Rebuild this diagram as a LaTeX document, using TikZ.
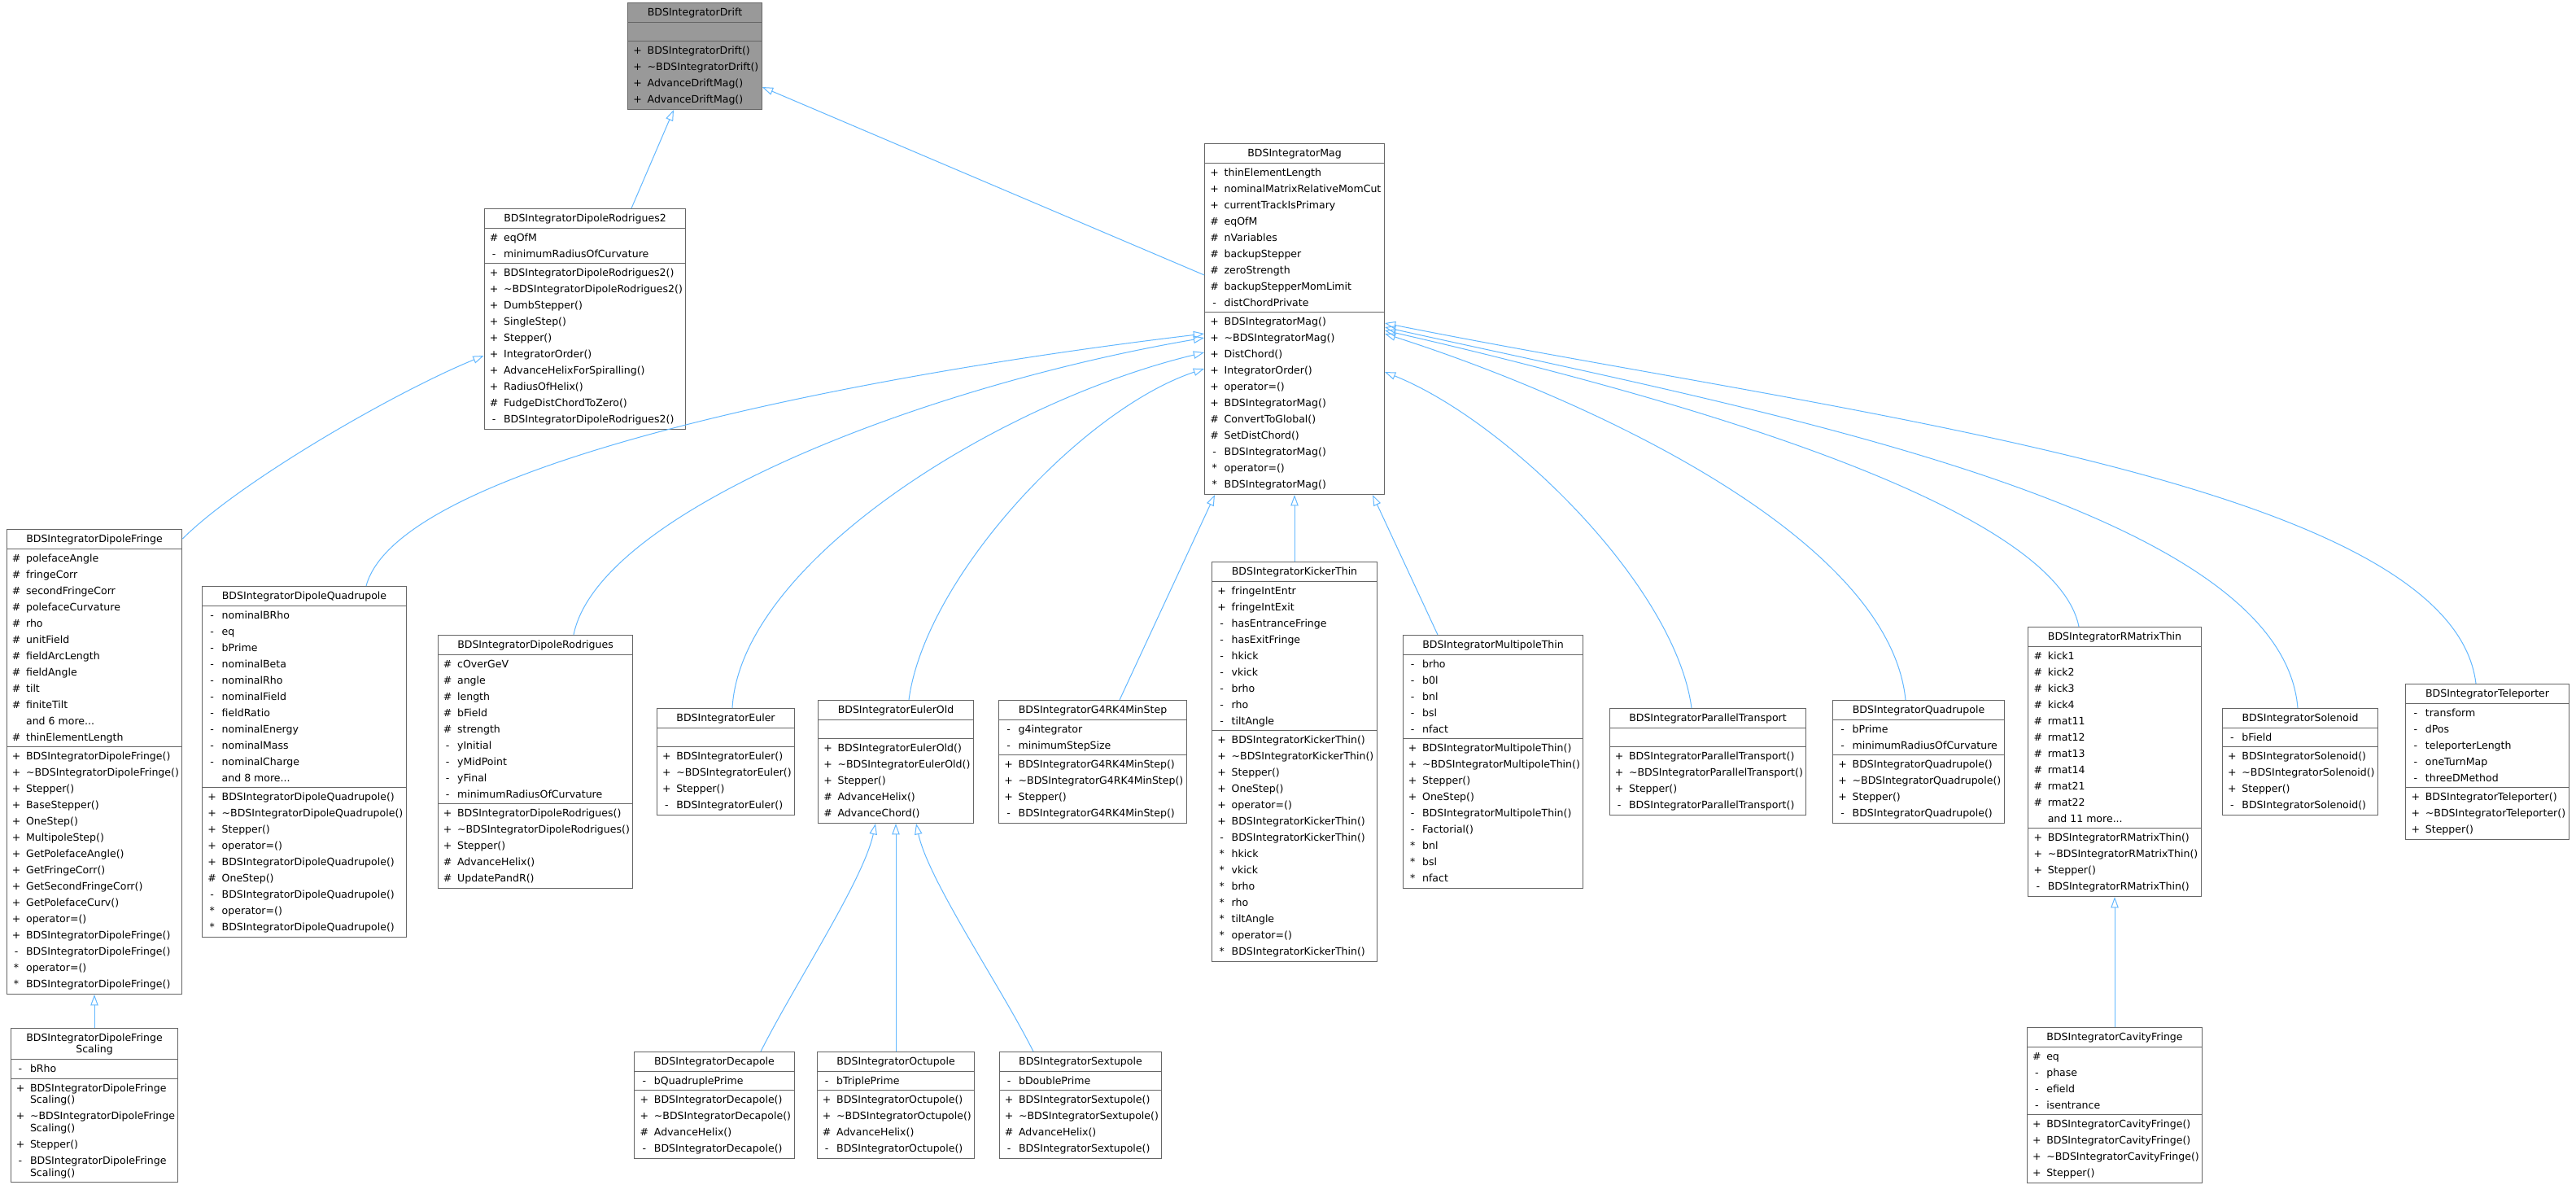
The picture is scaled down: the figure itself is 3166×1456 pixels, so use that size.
\documentclass[tikz,border=0pt]{standalone}
\usepackage{fontspec}
\setmainfont{DejaVu Sans}
\usepackage{tikz}
\usetikzlibrary{shapes.multipart,arrows.meta,calc}
\definecolor{edgeblue}{HTML}{63B8FF}
\definecolor{boxgray}{HTML}{666666}
\definecolor{curgray}{HTML}{999999}

% one member line: visibility symbol, then the name
\newcommand{\ent}[2]{\strut\makebox[12pt][c]{#1}\hspace{3pt}#2}
\newcommand{\tildech}{\textasciitilde}

\begin{document}
\fontsize{9.4pt}{15pt}\selectfont
\begin{tikzpicture}[x=0.75pt, y=-0.75pt,
    classbox/.style={rectangle split, rectangle split parts=3, draw=boxgray, line width=0.75pt, fill=white,
        align=left, rectangle split part align={center,left,left}, inner xsep=3pt, inner ysep=1pt},
    inh/.style={draw=edgeblue, line width=0.75pt, -{Triangle[open, length=10pt, width=7pt]}}]

    \path[use as bounding box, fill=white] (0,0) rectangle (3166,1456);

    % BDSIntegratorDrift (the class itself)
    \node[classbox, fill=curgray] (drift) at (854,69) {\strut BDSIntegratorDrift
        \nodepart{two}\strut
        \nodepart{three}\ent{+}{BDSIntegratorDrift()}\\\ent{+}{\tildech BDSIntegratorDrift()}\\\ent{+}{AdvanceDriftMag()}\\\ent{+}{AdvanceDriftMag()}};

    % BDSIntegratorDipoleRodrigues2
    \node[classbox] (rod2) at (719,392) {\strut BDSIntegratorDipoleRodrigues2
        \nodepart{two}\ent{\#}{eqOfM}\\\ent{-}{minimumRadiusOfCurvature}
        \nodepart{three}\ent{+}{BDSIntegratorDipoleRodrigues2()}\\\ent{+}{\tildech BDSIntegratorDipoleRodrigues2()}\\\ent{+}{DumbStepper()}\\\ent{+}{SingleStep()}\\\ent{+}{Stepper()}\\\ent{+}{IntegratorOrder()}\\\ent{+}{AdvanceHelixForSpiralling()}\\\ent{+}{RadiusOfHelix()}\\\ent{\#}{FudgeDistChordToZero()}\\\ent{-}{BDSIntegratorDipoleRodrigues2()}};

    % BDSIntegratorMag
    \node[classbox] (mag) at (1591,392) {\strut BDSIntegratorMag
        \nodepart{two}\ent{+}{thinElementLength}\\\ent{+}{nominalMatrixRelativeMomCut}\\\ent{+}{currentTrackIsPrimary}\\\ent{\#}{eqOfM}\\\ent{\#}{nVariables}\\\ent{\#}{backupStepper}\\\ent{\#}{zeroStrength}\\\ent{\#}{backupStepperMomLimit}\\\ent{-}{distChordPrivate}
        \nodepart{three}\ent{+}{BDSIntegratorMag()}\\\ent{+}{\tildech BDSIntegratorMag()}\\\ent{+}{DistChord()}\\\ent{+}{IntegratorOrder()}\\\ent{+}{operator=()}\\\ent{+}{BDSIntegratorMag()}\\\ent{\#}{ConvertToGlobal()}\\\ent{\#}{SetDistChord()}\\\ent{-}{BDSIntegratorMag()}\\\ent{*}{operator=()}\\\ent{*}{BDSIntegratorMag()}};

    % BDSIntegratorDipoleFringe
    \node[classbox] (dfringe) at (116,936) {\strut BDSIntegratorDipoleFringe
        \nodepart{two}\ent{\#}{polefaceAngle}\\\ent{\#}{fringeCorr}\\\ent{\#}{secondFringeCorr}\\\ent{\#}{polefaceCurvature}\\\ent{\#}{rho}\\\ent{\#}{unitField}\\\ent{\#}{fieldArcLength}\\\ent{\#}{fieldAngle}\\\ent{\#}{tilt}\\\ent{\#}{finiteTilt}\\\ent{}{and 6 more...}\\\ent{\#}{thinElementLength}
        \nodepart{three}\ent{+}{BDSIntegratorDipoleFringe()}\\\ent{+}{\tildech BDSIntegratorDipoleFringe()}\\\ent{+}{Stepper()}\\\ent{+}{BaseStepper()}\\\ent{+}{OneStep()}\\\ent{+}{MultipoleStep()}\\\ent{+}{GetPolefaceAngle()}\\\ent{+}{GetFringeCorr()}\\\ent{+}{GetSecondFringeCorr()}\\\ent{+}{GetPolefaceCurv()}\\\ent{+}{operator=()}\\\ent{+}{BDSIntegratorDipoleFringe()}\\\ent{-}{BDSIntegratorDipoleFringe()}\\\ent{*}{operator=()}\\\ent{*}{BDSIntegratorDipoleFringe()}};

    % BDSIntegratorDipoleQuadrupole
    \node[classbox] (dquad) at (374,936) {\strut BDSIntegratorDipoleQuadrupole
        \nodepart{two}\ent{-}{nominalBRho}\\\ent{-}{eq}\\\ent{-}{bPrime}\\\ent{-}{nominalBeta}\\\ent{-}{nominalRho}\\\ent{-}{nominalField}\\\ent{-}{fieldRatio}\\\ent{-}{nominalEnergy}\\\ent{-}{nominalMass}\\\ent{-}{nominalCharge}\\\ent{}{and 8 more...}
        \nodepart{three}\ent{+}{BDSIntegratorDipoleQuadrupole()}\\\ent{+}{\tildech BDSIntegratorDipoleQuadrupole()}\\\ent{+}{Stepper()}\\\ent{+}{operator=()}\\\ent{+}{BDSIntegratorDipoleQuadrupole()}\\\ent{\#}{OneStep()}\\\ent{-}{BDSIntegratorDipoleQuadrupole()}\\\ent{*}{operator=()}\\\ent{*}{BDSIntegratorDipoleQuadrupole()}};

    % BDSIntegratorDipoleRodrigues
    \node[classbox] (drod) at (658,936) {\strut BDSIntegratorDipoleRodrigues
        \nodepart{two}\ent{\#}{cOverGeV}\\\ent{\#}{angle}\\\ent{\#}{length}\\\ent{\#}{bField}\\\ent{\#}{strength}\\\ent{-}{yInitial}\\\ent{-}{yMidPoint}\\\ent{-}{yFinal}\\\ent{-}{minimumRadiusOfCurvature}
        \nodepart{three}\ent{+}{BDSIntegratorDipoleRodrigues()}\\\ent{+}{\tildech BDSIntegratorDipoleRodrigues()}\\\ent{+}{Stepper()}\\\ent{\#}{AdvanceHelix()}\\\ent{\#}{UpdatePandR()}};

    % BDSIntegratorEuler
    \node[classbox] (euler) at (892,936) {\strut BDSIntegratorEuler
        \nodepart{two}\strut
        \nodepart{three}\ent{+}{BDSIntegratorEuler()}\\\ent{+}{\tildech BDSIntegratorEuler()}\\\ent{+}{Stepper()}\\\ent{-}{BDSIntegratorEuler()}};

    % BDSIntegratorEulerOld
    \node[classbox] (eulerold) at (1101,936) {\strut BDSIntegratorEulerOld
        \nodepart{two}\strut
        \nodepart{three}\ent{+}{BDSIntegratorEulerOld()}\\\ent{+}{\tildech BDSIntegratorEulerOld()}\\\ent{+}{Stepper()}\\\ent{\#}{AdvanceHelix()}\\\ent{\#}{AdvanceChord()}};

    % BDSIntegratorG4RK4MinStep
    \node[classbox] (g4rk4) at (1343,936) {\strut BDSIntegratorG4RK4MinStep
        \nodepart{two}\ent{-}{g4integrator}\\\ent{-}{minimumStepSize}
        \nodepart{three}\ent{+}{BDSIntegratorG4RK4MinStep()}\\\ent{+}{\tildech BDSIntegratorG4RK4MinStep()}\\\ent{+}{Stepper()}\\\ent{-}{BDSIntegratorG4RK4MinStep()}};

    % BDSIntegratorKickerThin
    \node[classbox] (kicker) at (1591,936) {\strut BDSIntegratorKickerThin
        \nodepart{two}\ent{+}{fringeIntEntr}\\\ent{+}{fringeIntExit}\\\ent{-}{hasEntranceFringe}\\\ent{-}{hasExitFringe}\\\ent{-}{hkick}\\\ent{-}{vkick}\\\ent{-}{brho}\\\ent{-}{rho}\\\ent{-}{tiltAngle}
        \nodepart{three}\ent{+}{BDSIntegratorKickerThin()}\\\ent{+}{\tildech BDSIntegratorKickerThin()}\\\ent{+}{Stepper()}\\\ent{+}{OneStep()}\\\ent{+}{operator=()}\\\ent{+}{BDSIntegratorKickerThin()}\\\ent{-}{BDSIntegratorKickerThin()}\\\ent{*}{hkick}\\\ent{*}{vkick}\\\ent{*}{brho}\\\ent{*}{rho}\\\ent{*}{tiltAngle}\\\ent{*}{operator=()}\\\ent{*}{BDSIntegratorKickerThin()}};

    % BDSIntegratorMultipoleThin
    \node[classbox] (multipole) at (1835,936) {\strut BDSIntegratorMultipoleThin
        \nodepart{two}\ent{-}{brho}\\\ent{-}{b0l}\\\ent{-}{bnl}\\\ent{-}{bsl}\\\ent{-}{nfact}
        \nodepart{three}\ent{+}{BDSIntegratorMultipoleThin()}\\\ent{+}{\tildech BDSIntegratorMultipoleThin()}\\\ent{+}{Stepper()}\\\ent{+}{OneStep()}\\\ent{-}{BDSIntegratorMultipoleThin()}\\\ent{-}{Factorial()}\\\ent{*}{bnl}\\\ent{*}{bsl}\\\ent{*}{nfact}};

    % BDSIntegratorParallelTransport
    \node[classbox] (partrans) at (2099,936) {\strut BDSIntegratorParallelTransport
        \nodepart{two}\strut
        \nodepart{three}\ent{+}{BDSIntegratorParallelTransport()}\\\ent{+}{\tildech BDSIntegratorParallelTransport()}\\\ent{+}{Stepper()}\\\ent{-}{BDSIntegratorParallelTransport()}};

    % BDSIntegratorQuadrupole
    \node[classbox] (quad) at (2358,936) {\strut BDSIntegratorQuadrupole
        \nodepart{two}\ent{-}{bPrime}\\\ent{-}{minimumRadiusOfCurvature}
        \nodepart{three}\ent{+}{BDSIntegratorQuadrupole()}\\\ent{+}{\tildech BDSIntegratorQuadrupole()}\\\ent{+}{Stepper()}\\\ent{-}{BDSIntegratorQuadrupole()}};

    % BDSIntegratorRMatrixThin
    \node[classbox] (rmatrix) at (2599,936) {\strut BDSIntegratorRMatrixThin
        \nodepart{two}\ent{\#}{kick1}\\\ent{\#}{kick2}\\\ent{\#}{kick3}\\\ent{\#}{kick4}\\\ent{\#}{rmat11}\\\ent{\#}{rmat12}\\\ent{\#}{rmat13}\\\ent{\#}{rmat14}\\\ent{\#}{rmat21}\\\ent{\#}{rmat22}\\\ent{}{and 11 more...}
        \nodepart{three}\ent{+}{BDSIntegratorRMatrixThin()}\\\ent{+}{\tildech BDSIntegratorRMatrixThin()}\\\ent{+}{Stepper()}\\\ent{-}{BDSIntegratorRMatrixThin()}};

    % BDSIntegratorSolenoid
    \node[classbox] (solenoid) at (2827,936) {\strut BDSIntegratorSolenoid
        \nodepart{two}\ent{-}{bField}
        \nodepart{three}\ent{+}{BDSIntegratorSolenoid()}\\\ent{+}{\tildech BDSIntegratorSolenoid()}\\\ent{+}{Stepper()}\\\ent{-}{BDSIntegratorSolenoid()}};

    % BDSIntegratorTeleporter
    \node[classbox] (teleporter) at (3057,936) {\strut BDSIntegratorTeleporter
        \nodepart{two}\ent{-}{transform}\\\ent{-}{dPos}\\\ent{-}{teleporterLength}\\\ent{-}{oneTurnMap}\\\ent{-}{threeDMethod}
        \nodepart{three}\ent{+}{BDSIntegratorTeleporter()}\\\ent{+}{\tildech BDSIntegratorTeleporter()}\\\ent{+}{Stepper()}};

    % BDSIntegratorDipoleFringeScaling
    \node[classbox] (dfscale) at (116,1358) {\begin{tabular}{@{}c@{}}BDSIntegratorDipoleFringe\\[-4pt]Scaling\end{tabular}
        \nodepart{two}\ent{-}{bRho}
        \nodepart{three}\ent{+}{BDSIntegratorDipoleFringe}\\[-4pt]\ent{}{Scaling()}\\\ent{+}{\tildech BDSIntegratorDipoleFringe}\\[-4pt]\ent{}{Scaling()}\\\ent{+}{Stepper()}\\\ent{-}{BDSIntegratorDipoleFringe}\\[-4pt]\ent{}{Scaling()}};

    % BDSIntegratorDecapole
    \node[classbox] (decapole) at (878,1358) {\strut BDSIntegratorDecapole
        \nodepart{two}\ent{-}{bQuadruplePrime}
        \nodepart{three}\ent{+}{BDSIntegratorDecapole()}\\\ent{+}{\tildech BDSIntegratorDecapole()}\\\ent{\#}{AdvanceHelix()}\\\ent{-}{BDSIntegratorDecapole()}};

    % BDSIntegratorOctupole
    \node[classbox] (octupole) at (1101,1358) {\strut BDSIntegratorOctupole
        \nodepart{two}\ent{-}{bTriplePrime}
        \nodepart{three}\ent{+}{BDSIntegratorOctupole()}\\\ent{+}{\tildech BDSIntegratorOctupole()}\\\ent{\#}{AdvanceHelix()}\\\ent{-}{BDSIntegratorOctupole()}};

    % BDSIntegratorSextupole
    \node[classbox] (sextupole) at (1328,1358) {\strut BDSIntegratorSextupole
        \nodepart{two}\ent{-}{bDoublePrime}
        \nodepart{three}\ent{+}{BDSIntegratorSextupole()}\\\ent{+}{\tildech BDSIntegratorSextupole()}\\\ent{\#}{AdvanceHelix()}\\\ent{-}{BDSIntegratorSextupole()}};

    % BDSIntegratorCavityFringe
    \node[classbox] (cavity) at (2599,1358) {\strut BDSIntegratorCavityFringe
        \nodepart{two}\ent{\#}{eq}\\\ent{-}{phase}\\\ent{-}{efield}\\\ent{-}{isentrance}
        \nodepart{three}\ent{+}{BDSIntegratorCavityFringe()}\\\ent{+}{BDSIntegratorCavityFringe()}\\\ent{+}{\tildech BDSIntegratorCavityFringe()}\\\ent{+}{Stepper()}};

    % Inheritance: BDSIntegratorDrift
    \draw[inh] ($(rod2.north)+(57,0)$) -- ($(drift.south)+(-26,0)$);
    \draw[inh] ($(mag.west)+(0,-54)$) -- ($(drift.east)+(0,38)$);

    % Inheritance: BDSIntegratorDipoleRodrigues2 and BDSIntegratorDipoleFringe
    \draw[inh] ($(dfringe.north east)+(0,12)$) .. controls +(70,-70) and +(-110,45) .. ($(rod2.west)+(0,45)$);
    \draw[inh] (dfscale.north) -- (dfringe.south);

    % Inheritance: BDSIntegratorMag, left side
    \draw[inh] ($(dquad.north)+(76,0)$) .. controls +(40,-150) and +(-420,50) .. ($(mag.west)+(0,18)$);
    \draw[inh] ($(drod.north)+(47,0)$) .. controls +(30,-150) and +(-350,60) .. ($(mag.west)+(0,23)$);
    \draw[inh] ($(euler.north)+(8,0)$) .. controls +(10,-180) and +(-250,60) .. ($(mag.west)+(0,41)$);
    \draw[inh] ($(eulerold.north)+(16,0)$) .. controls +(20,-150) and +(-150,50) .. ($(mag.west)+(0,61)$);

    % Inheritance: BDSIntegratorMag, bottom
    \draw[inh] ($(g4rk4.north)+(33,0)$) -- ($(mag.south)+(-98,0)$);
    \draw[inh] (kicker.north) -- (mag.south);
    \draw[inh] ($(multipole.north)+(-68,0)$) -- ($(mag.south)+(96,0)$);

    % Inheritance: BDSIntegratorMag, right side
    \draw[inh] ($(partrans.north)+(-20,0)$) .. controls +(-20,-150) and +(150,60) .. ($(mag.east)+(0,65)$);
    \draw[inh] ($(quad.north)+(-16,0)$) .. controls +(-20,-200) and +(250,80) .. ($(mag.east)+(0,18)$);
    \draw[inh] ($(rmatrix.north)+(-44,0)$) .. controls +(-30,-150) and +(350,80) .. ($(mag.east)+(0,14)$);
    \draw[inh] ($(solenoid.north)+(-3,0)$) .. controls +(-20,-250) and +(450,100) .. ($(mag.east)+(0,10)$);
    \draw[inh] ($(teleporter.north)+(-14,0)$) .. controls +(-30,-250) and +(550,110) .. ($(mag.east)+(0,5)$);

    % Inheritance: BDSIntegratorEulerOld and BDSIntegratorRMatrixThin
    \draw[inh] ($(decapole.north)+(57,0)$) .. controls +(40,-80) and +(-15,70) .. ($(eulerold.south)+(-25,0)$);
    \draw[inh] (octupole.north) -- (eulerold.south);
    \draw[inh] ($(sextupole.north)+(-58,0)$) .. controls +(-40,-80) and +(15,70) .. ($(eulerold.south)+(25,0)$);
    \draw[inh] (cavity.north) -- (rmatrix.south);
\end{tikzpicture}
\end{document}
